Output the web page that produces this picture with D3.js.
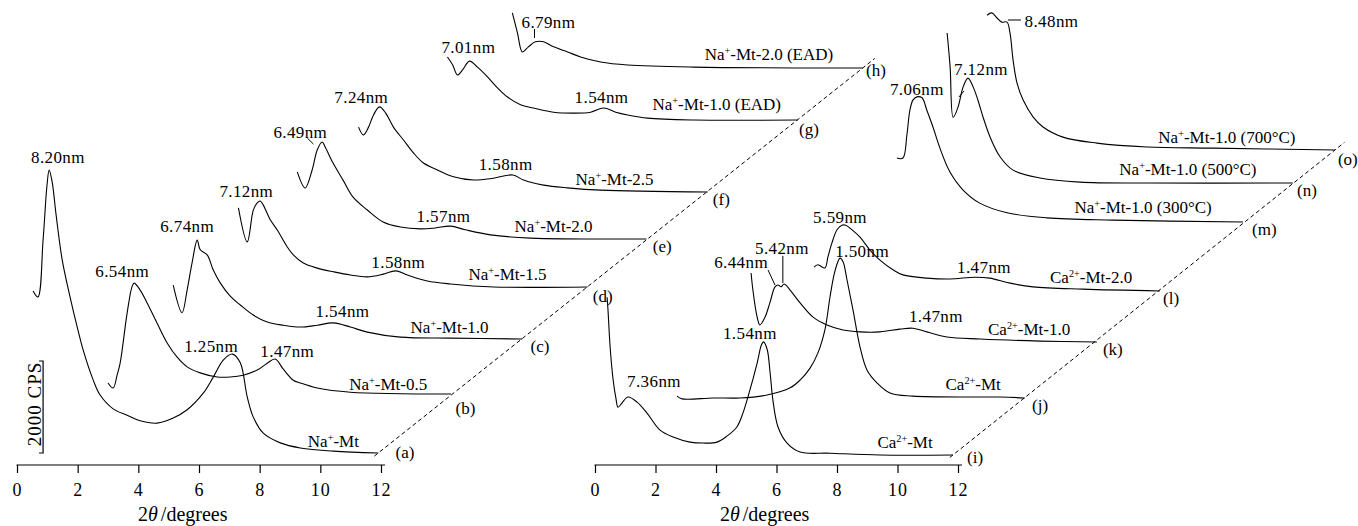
<!DOCTYPE html>
<html>
<head>
<meta charset="utf-8">
<script src="https://cdn.jsdelivr.net/npm/d3@7"></script>
<style>
  body { margin: 0; background: #fff; }
  svg text { font-family: "Liberation Serif", "Times New Roman", serif; fill: #000; }
</style>
</head>
<body>
<svg id="chart" width="1358" height="526"></svg>
<script>
// ---- traces, [2theta, CPS above the trace's own baseline] ----
const naMt      = [[0.53,3520],[0.69,3390],[0.86,4630],[0.99,5830],[1.06,6150],[1.16,5890],[1.29,5170],[1.49,4200],[1.75,3390],[2.01,2670],[2.18,2240],[2.51,1590],[2.74,1260],[3.17,960],[3.63,820],[4.06,700],[4.62,650],[5.15,760],[5.61,940],[6.14,1300],[6.47,1650],[6.80,2020],[7.10,2150],[7.36,1960],[7.59,1220],[7.79,780],[8.12,430],[8.68,220],[9.34,110],[10.43,40],[11.91,0]]
const naMt05    = [[0.56,240],[0.73,130],[0.86,410],[0.96,670],[1.19,1760],[1.35,2330],[1.42,2410],[1.62,2260],[1.85,1980],[2.18,1540],[2.51,1110],[2.84,800],[3.17,590],[3.60,460],[4.16,370],[4.59,370],[5.02,410],[5.48,520],[5.81,670],[6.07,760],[6.34,540],[6.67,300],[6.90,240],[7.46,130],[8.55,40],[11.87,0]]
const naMt10    = [[0.40,1170],[0.69,570],[0.86,1070],[1.02,1650],[1.19,2150],[1.29,1940],[1.52,1830],[1.72,1500],[1.95,1220],[2.28,930],[2.61,740],[3.04,520],[3.50,370],[4.03,300],[4.59,260],[5.15,300],[5.68,350],[6.24,260],[6.80,150],[7.89,40],[9.54,20],[11.91,0]]
const naMt15    = [[0.40,1720],[0.69,980],[0.89,1670],[1.02,1830],[1.12,1870],[1.22,1780],[1.45,1460],[1.68,1240],[2.01,870],[2.21,700],[2.54,520],[3.00,410],[3.53,330],[4.09,260],[4.65,220],[5.18,280],[5.58,350],[5.97,260],[6.63,130],[7.39,65],[8.81,0],[11.91,0]]
const naMt20    = [[0.40,1460],[0.66,1110],[0.89,1500],[1.06,1940],[1.22,2110],[1.32,2000],[1.58,1650],[1.91,1280],[2.24,910],[2.71,630],[3.23,370],[3.80,260],[4.46,220],[4.95,240],[5.45,280],[5.94,200],[6.77,90],[8.09,20],[11.91,0]]
const naMt25    = [[0.40,1410],[0.56,1240],[0.73,1410],[0.89,1670],[1.09,1850],[1.29,1720],[1.55,1410],[1.88,1130],[2.21,850],[2.54,630],[3.00,480],[3.53,330],[4.19,260],[4.85,300],[5.48,370],[5.84,260],[6.50,150],[7.29,90],[8.38,40],[11.91,0]]
const naMt10ead = [[0.36,1370],[0.53,1200],[0.69,980],[0.86,1090],[1.09,1280],[1.35,1150],[1.68,940],[2.01,700],[2.34,500],[2.77,330],[3.20,260],[3.86,170],[4.52,150],[5.08,170],[5.51,260],[5.91,170],[6.30,110],[6.96,40],[8.48,0],[11.91,0]]
const naMt20ead = [[0.36,1200],[0.53,760],[0.69,350],[0.89,460],[1.12,570],[1.39,570],[1.72,460],[2.18,350],[2.61,240],[3.27,130],[4.16,65],[6.34,20],[11.91,0]]

const caMt      = [[0.40,3430],[0.43,3150],[0.50,2350],[0.60,1630],[0.69,1240],[0.76,1040],[0.89,1130],[1.09,1260],[1.39,1150],[1.72,910],[2.15,540],[2.58,390],[3.14,280],[3.57,260],[4.03,280],[4.36,410],[4.69,610],[4.89,910],[5.12,1410],[5.36,2000],[5.50,2390],[5.57,2460],[5.69,2300],[5.79,1780],[5.88,1200],[6.05,610],[6.35,260],[6.78,65],[7.77,40],[9.42,0],[11.83,0]]
const caMtB     = [[0.33,40],[0.50,-20],[1.52,0],[2.41,0],[3.31,65],[4.07,220],[4.40,390],[4.73,650],[4.99,980],[5.22,1480],[5.39,2200],[5.52,2670],[5.65,2960],[5.72,3040],[5.82,2960],[5.95,2570],[6.15,1910],[6.38,1110],[6.61,610],[6.94,330],[7.37,110],[8.13,40],[11.01,20],[11.83,0]]
const caMt10    = [[0.40,1500],[0.46,1130],[0.60,540],[0.69,370],[0.86,540],[1.02,850],[1.19,1200],[1.29,1240],[1.39,1200],[1.49,1260],[1.69,1130],[2.02,850],[2.45,540],[2.91,370],[3.44,260],[4.00,220],[4.66,220],[5.32,280],[5.75,300],[6.21,220],[6.88,110],[7.97,65],[9.95,20],[11.83,0]]
const caMt20    = [[0.40,520],[0.53,570],[0.76,500],[0.86,740],[0.99,1040],[1.16,1330],[1.32,1430],[1.45,1430],[1.62,1350],[1.92,1170],[2.25,890],[2.58,670],[3.01,460],[3.34,350],[4.13,280],[4.89,260],[5.72,300],[6.21,280],[6.88,170],[7.64,90],[9.29,40],[11.83,0]]
const naMt300   = [[0.33,1390],[0.53,1390],[0.66,1890],[0.76,2430],[0.86,2650],[0.99,2720],[1.16,2700],[1.32,2430],[1.52,2070],[1.75,1610],[2.08,1090],[2.51,700],[3.07,410],[3.97,200],[5.29,90],[7.47,40],[11.77,0]]
const naMt500   = [[0.40,3260],[0.50,2520],[0.60,1430],[0.76,1650],[0.93,2090],[1.09,2280],[1.26,2090],[1.42,1800],[1.59,1430],[1.82,1000],[2.15,570],[2.58,280],[3.47,110],[4.79,20],[7.01,0],[11.83,0]]
const naMt700   = [[0.40,2930],[0.56,2980],[0.73,2870],[0.89,2780],[1.06,2780],[1.16,2540],[1.26,1960],[1.39,1460],[1.59,1090],[1.92,720],[2.25,500],[2.91,280],[4.03,150],[5.69,65],[7.87,40],[11.90,0]]

// waterfall offsets (degrees, CPS) of each trace
const leftShiftDeg  = [0, 2.44, 4.75, 6.90, 8.84, 10.86, 13.83, 15.97]
const leftShiftCps  = [261, 1543, 2739, 3870, 4913, 5935, 7500, 8630]
const rightShiftDeg = [0, 2.38, 4.76, 6.84, 9.65, 11.24, 12.56]
const rightShiftCps = [217, 1457, 2674, 3783, 5283, 6130, 6848]

// sample names [base, superscript, rest]
const leftNames = [['Na','+','-Mt'],['Na','+','-Mt-0.5'],['Na','+','-Mt-1.0'],['Na','+','-Mt-1.5'],['Na','+','-Mt-2.0'],['Na','+','-Mt-2.5'],['Na','+','-Mt-1.0 (EAD)'],['Na','+','-Mt-2.0 (EAD)']]
const leftNameT = [10.43, 12.24, 14.26, 16.17, 17.69, 19.70, 23.07, 24.79]
const leftNameC = [391, 1630, 2870, 4022, 5065, 6087, 7717, 8804]
const rightNames = [['Ca','2+','-Mt'],['Ca','2+','-Mt'],['Ca','2+','-Mt-1.0'],['Ca','2+','-Mt-2.0'],['Na','+','-Mt-1.0 (300°C)'],['Na','+','-Mt-1.0 (500°C)'],['Na','+','-Mt-1.0 (700°C)']]
const rightNameT = [10.25, 12.50, 14.35, 16.40, 18.12, 19.60, 20.89]
const rightNameC = [370, 1630, 2826, 3957, 5478, 6304, 7000]

const leftLetters  = ['(a)','(b)','(c)','(d)','(e)','(f)','(g)','(h)']
const leftLetterT  = [12.48, 14.46, 16.93, 18.98, 20.96, 22.94, 25.78, 27.99]
const leftLetterC  = [152, 1109, 2457, 3543, 4630, 5652, 7174, 8457]
const rightLetters = ['(i)','(j)','(k)','(l)','(m)','(n)','(o)']
const rightLetterT = [12.30, 14.45, 16.79, 18.78, 21.72, 23.21, 24.56]
const rightLetterC = [43, 1174, 2391, 3500, 5000, 5848, 6522]

// d-spacing labels
const leftPeakText = ['8.20nm','6.54nm','6.74nm','7.12nm','1.54nm','1.58nm','1.25nm','1.47nm','6.49nm','1.57nm','7.24nm','1.58nm','7.01nm','1.54nm','6.79nm']
const leftPeakT    = [1.35, 3.47, 5.61, 7.56, 10.73, 12.57, 6.40, 8.91, 9.34, 14.06, 11.35, 16.11, 14.88, 19.27, 17.52]
const leftPeakC    = [6565, 4087, 5065, 5826, 3217, 4283, 2457, 2348, 7109, 5283, 7870, 6413, 8957, 7870, 9500]
const rightPeakText = ['7.36nm','1.54nm','1.50nm','6.44nm','5.42nm','1.47nm','5.59nm','1.47nm','7.06nm','7.12nm','8.48nm']
const rightPeakT    = [1.95, 5.12, 8.83, 4.83, 6.18, 11.27, 8.10, 12.86, 10.64, 12.76, 15.09]
const rightPeakC    = [1696, 2739, 4522, 4283, 4587, 3109, 5261, 4174, 8044, 8478, 9522]

// small leader lines [t1, c1, t2, c2]
const leftLeaders  = [[9.57,7109,9.77,6978],[17.06,9478,17.06,9283]]
const rightLeaders = [[5.72,4239,5.95,3913],[6.21,4544,6.21,3957],[13.65,9674,14.08,9674],[12.03,8000,12.20,8130]]

const tickValues = [0, 2, 4, 6, 8, 10, 12]
const scaleBarCps = 2000

const svg = d3.select('#chart')
const yScale = d3.scaleLinear().domain([0, 2000]).range([465, 373])

function addName(g, parts, x, y, size) {
  let t = g.append('text').attr('x', x).attr('y', y).attr('text-anchor', 'middle').style('font-size', size + 'px')
  t.append('tspan').text(parts[0])
  t.append('tspan').attr('dy', -6).style('font-size', (size * 0.6) + 'px').text(parts[1])
  t.append('tspan').attr('dy', 6).text(parts[2])
}

function drawPanel(cfg) {
  const { range, traces, shiftDeg, shiftCps, names, nameT, nameC, letters, letterT, letterC,
          peakText, peakT, peakC, leaders, titleT, scaleBar } = cfg
  const xs = d3.scaleLinear().domain([0, 12]).range(range)
  const ys = yScale
  const g = svg.append('g')

  // Traces
  traces.forEach((tr, i) => {
    const line = d3.line()
      .x(d => xs(d[0] + shiftDeg[i]))
      .y(d => ys(d[1] + shiftCps[i]))
      .curve(d3.curveCatmullRom.alpha(0.5))
    g.append('path').datum(tr).attr('d', line)
      .attr('fill', 'none').attr('stroke', '#000').attr('stroke-width', 1.1)
  })

  // Dashed line through trace ends
  const ends = traces.map((tr, i) => {
    const p = tr[tr.length - 1]
    return [xs(p[0] + shiftDeg[i]), ys(p[1] + shiftCps[i])]
  })
  const p0 = ends[0], p1 = ends[ends.length - 1]
  const vx = p1[0] - p0[0], vy = p1[1] - p0[1]
  g.append('line')
    .attr('x1', p0[0] - vx * 0.008).attr('y1', p0[1] - vy * 0.008)
    .attr('x2', p1[0] + vx * 0.025).attr('y2', p1[1] + vy * 0.025)
    .attr('stroke', '#000').attr('stroke-width', 1).attr('stroke-dasharray', '4,3')

  // Axis
  const axis = d3.axisBottom(xs).tickValues(tickValues).tickSize(8).tickSizeOuter(0).tickPadding(10)
  const ax = g.append('g').attr('transform', 'translate(0,465)').call(axis)
  ax.select('.domain').attr('d', `M${xs(0) - 0.5},0H${xs(12) + 4}`).attr('stroke', '#000').attr('stroke-width', 1.2)
  ax.selectAll('.tick line').attr('stroke', '#000').attr('stroke-width', 1.2)
  ax.selectAll('.tick text')
    .style('font-family', '"Liberation Serif", serif').style('font-size', '18px')
    .style('letter-spacing', '1px').attr('fill', '#000')

  // Axis title
  const title = g.append('text').attr('x', xs(titleT)).attr('y', 521).style('font-size', '20px')
  title.append('tspan').text('2')
  title.append('tspan').style('font-style', 'italic').text('θ')
  title.append('tspan').attr('dx', 3).text('/degrees')

  // Sample names and letters
  names.forEach((n, i) => addName(g, n, xs(nameT[i]), ys(nameC[i]), 17))
  letters.forEach((l, i) => {
    g.append('text').attr('x', xs(letterT[i])).attr('y', ys(letterC[i])).style('font-size', '17px').text(l)
  })

  // Peak labels
  peakText.forEach((t, i) => {
    g.append('text').attr('x', xs(peakT[i])).attr('y', ys(peakC[i]))
      .attr('text-anchor', 'middle').style('font-size', '17px').style('letter-spacing', '0.4px').text(t)
  })
  leaders.forEach(l => {
    g.append('line').attr('x1', xs(l[0])).attr('y1', ys(l[1])).attr('x2', xs(l[2])).attr('y2', ys(l[3]))
      .attr('stroke', '#000').attr('stroke-width', 1)
  })

  // Scale bar
  if (scaleBar) {
    const bx = xs(scaleBar.t), yb = ys(scaleBar.c0), yt = ys(scaleBar.c0 + scaleBarCps)
    g.append('path').attr('d', `M${bx - 4},${yt}H${bx}V${yb}H${bx - 4}`)
      .attr('fill', 'none').attr('stroke', '#000').attr('stroke-width', 1.2)
    g.append('text')
      .attr('transform', `translate(${bx - 2},${(yt + yb) / 2 - 3}) rotate(-90)`)
      .attr('text-anchor', 'middle').style('font-size', '19px').style('letter-spacing', '1px')
      .text(scaleBarCps + ' CPS')
  }
}

drawPanel({
  range: [17, 381],
  traces: [naMt, naMt05, naMt10, naMt15, naMt20, naMt25, naMt10ead, naMt20ead],
  shiftDeg: leftShiftDeg, shiftCps: leftShiftCps,
  names: leftNames, nameT: leftNameT, nameC: leftNameC,
  letters: leftLetters, letterT: leftLetterT, letterC: leftLetterC,
  peakText: leftPeakText, peakT: leftPeakT, peakC: leftPeakC,
  leaders: leftLeaders, titleT: 3.99,
  scaleBar: { t: 0.86, c0: 261 }
})

drawPanel({
  range: [595, 958],
  traces: [caMt, caMtB, caMt10, caMt20, naMt300, naMt500, naMt700],
  shiftDeg: rightShiftDeg, shiftCps: rightShiftCps,
  names: rightNames, nameT: rightNameT, nameC: rightNameC,
  letters: rightLetters, letterT: rightLetterT, letterC: rightLetterC,
  peakText: rightPeakText, peakT: rightPeakT, peakC: rightPeakC,
  leaders: rightLeaders, titleT: 4.13,
  scaleBar: null
})
</script>
</body>
</html>
